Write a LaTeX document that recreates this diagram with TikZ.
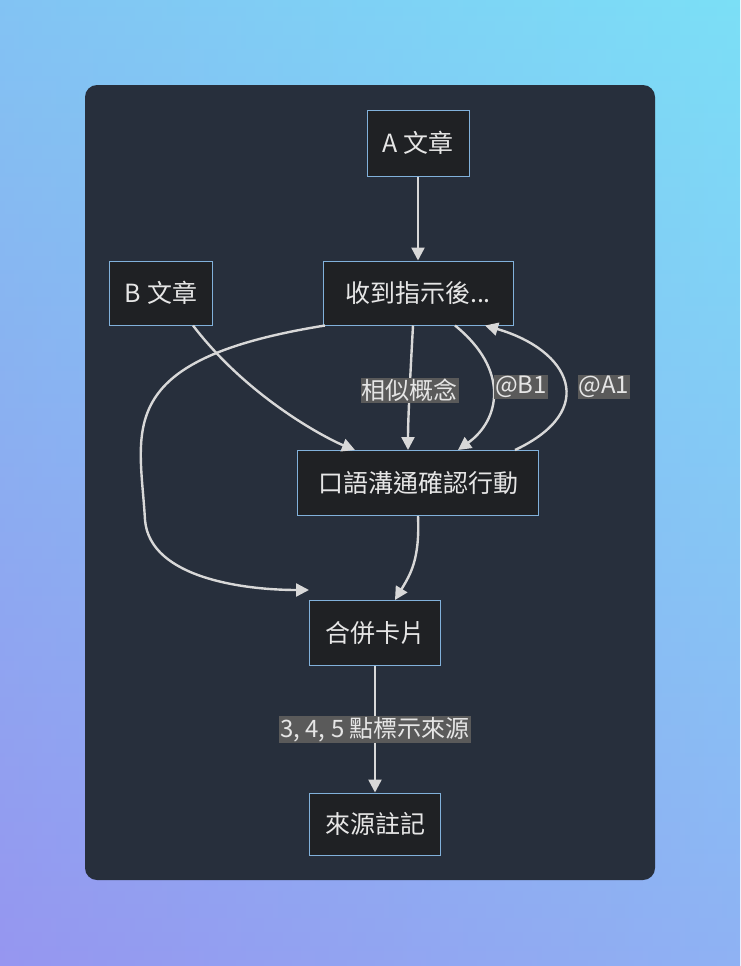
\documentclass[tikz,border=0pt]{standalone}
\usepackage{fontspec}
\setmainfont{Noto Sans CJK TC}
\usetikzlibrary{arrows.meta}
\definecolor{card}{HTML}{272F3C}
\definecolor{nodefill}{HTML}{1F2124}
\definecolor{nodeborder}{HTML}{81B1DB}
\definecolor{txt}{HTML}{E6E6E6}
\definecolor{edge}{HTML}{D8D8D8}
\definecolor{lblbg}{HTML}{5A5A5A}
\tikzset{
 box/.style={draw=nodeborder, fill=nodefill, line width=1pt, text=txt, font=\fontsize{25}{29}\selectfont, inner sep=0pt},
 conn/.style={draw=edge, line width=2.4pt, -{Triangle[length=13pt,width=13pt]}},
 lbl/.style={fill=lblbg, text=txt, font=\fontsize{24}{28}\selectfont, inner sep=1pt}
}
\begin{document}
\begin{tikzpicture}[x=1pt,y=-1pt]
\useasboundingbox (0,0) rectangle (740,966);
\shade[top color={rgb,255:red,120;green,220;blue,245}, bottom color={rgb,255:red,150;green,150;blue,240}] (0,0) rectangle (740,966);
\shade[left color={rgb,255:red,150;green,150;blue,240}, right color={rgb,255:red,130;green,230;blue,250}, opacity=0.35] (0,0) rectangle (740,966);
\fill[card, rounded corners=12pt] (85,85) rectangle (655,880);
\node[box, minimum width=102pt, minimum height=66pt] (A) at (418,143) {A 文章};
\node[box, minimum width=190pt, minimum height=64pt] (R) at (418,293) {收到指示後...};
\node[box, minimum width=103pt, minimum height=64pt] (B) at (161,293) {B 文章};
\node[box, minimum width=241pt, minimum height=65pt] (K) at (418,483) {口語溝通確認行動};
\node[box, minimum width=131pt, minimum height=65pt] (M) at (375,633) {合併卡片};
\node[box, minimum width=131pt, minimum height=62pt] (S) at (375,824) {來源註記};
\draw[conn] ([xshift=-20pt]B.south east) .. controls (250,400) and (330,440) .. ([xshift=-63pt]K.north);
\draw[conn] ([xshift=-5pt]R.south) .. controls (410,380) and (408,420) .. ([xshift=-10pt]K.north) node[lbl, pos=0.45] {相似概念};
\draw[conn] ([xshift=37pt]R.south) .. controls (510,370) and (500,420) .. ([xshift=40pt]K.north);
\node[lbl] (l2) at (521,387) {@B1};
\draw[conn] ([xshift=97pt]K.north) .. controls (600,410) and (570,350) .. ([xshift=67pt]R.south);
\node[lbl] (l3) at (604,387) {@A1};
\draw[conn] ([xshift=-93pt]R.south) .. controls (110,360) and (140,430) .. (145,520) .. controls (150,580) and (250,590) .. ([yshift=10pt]M.north west);
\draw[conn] (K.south) .. controls (420,560) and (410,575) .. ([xshift=20pt]M.north);
\draw[conn] (A) -- (R);
\draw[conn] (M) -- (S) node[lbl, midway] {3, 4, 5 點標示來源};
\end{tikzpicture}
\end{document}
